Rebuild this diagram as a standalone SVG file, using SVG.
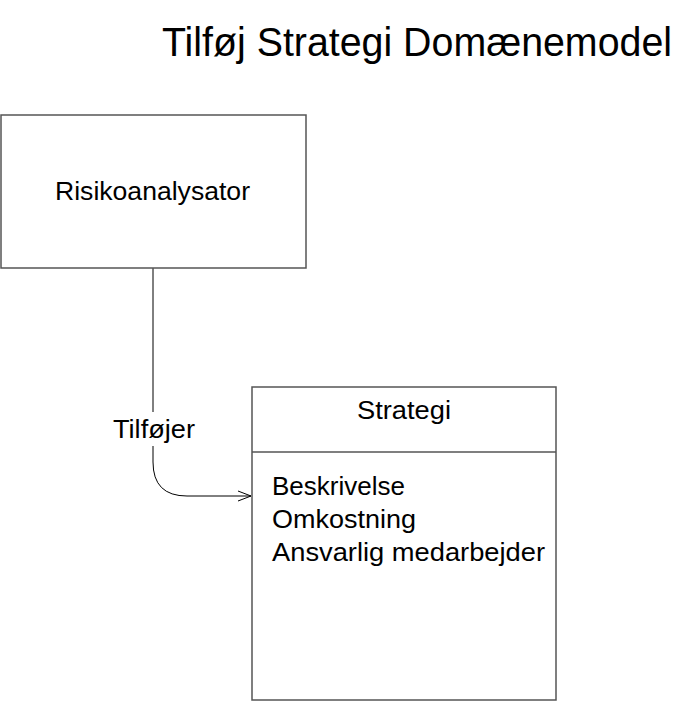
<svg xmlns="http://www.w3.org/2000/svg" width="699" height="702" viewBox="0 0 699 702">
<style>
.t{font-family:"Liberation Sans",Arial,sans-serif;fill:#000}
.box{fill:#fff;stroke:#555;stroke-width:1.5}
.conn{fill:none;stroke:#000;stroke-width:1}
</style>
<defs>
<marker id="arr" markerWidth="16" markerHeight="12" refX="14" refY="6" orient="auto" markerUnits="userSpaceOnUse">
<path d="M1,1 L14,6 L1,11" fill="none" stroke="#000" stroke-width="1"/>
</marker>
</defs>
<rect width="699" height="702" fill="#fff"/>
<text class="t" x="162" y="56" font-size="40" textLength="510" lengthAdjust="spacingAndGlyphs">Tilføj Strategi Domænemodel</text>
<g id="connectors">
<path class="conn" d="M153,268 L153,462 Q153,496 187,496 L251,496" marker-end="url(#arr)"/>
<rect x="108" y="412" width="92" height="34" fill="#fff"/>
<text class="t" x="113" y="438" font-size="25" textLength="82" lengthAdjust="spacingAndGlyphs">Tilføjer</text>
</g>
<g id="risikoanalysator">
<rect class="box" x="1" y="115" width="305" height="153"/>
<text class="t" x="55" y="200" font-size="26" textLength="195" lengthAdjust="spacingAndGlyphs">Risikoanalysator</text>
</g>
<g id="strategi">
<rect class="box" x="252" y="387" width="304" height="313"/>
<line x1="252" y1="452" x2="556" y2="452" stroke="#555" stroke-width="1.5"/>
<text class="t" x="357" y="419" font-size="25" textLength="94" lengthAdjust="spacingAndGlyphs">Strategi</text>
<text class="t" x="272" y="495" font-size="25" textLength="133" lengthAdjust="spacingAndGlyphs">Beskrivelse</text>
<text class="t" x="272" y="528" font-size="25" textLength="144" lengthAdjust="spacingAndGlyphs">Omkostning</text>
<text class="t" x="272" y="561" font-size="25" textLength="273" lengthAdjust="spacingAndGlyphs">Ansvarlig medarbejder</text>
</g>
</svg>
